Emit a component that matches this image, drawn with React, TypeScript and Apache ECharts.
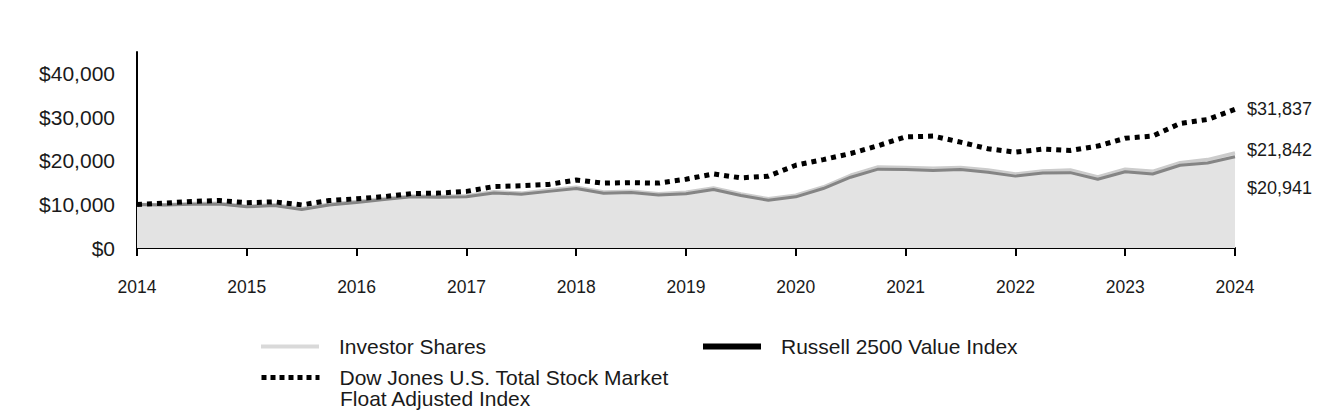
import React, { useEffect, useRef } from "react";
import * as echarts from "echarts";

const categories = [
  "2014", "Q2 2014", "Q3 2014", "Q4 2014",
  "2015", "Q2 2015", "Q3 2015", "Q4 2015",
  "2016", "Q2 2016", "Q3 2016", "Q4 2016",
  "2017", "Q2 2017", "Q3 2017", "Q4 2017",
  "2018", "Q2 2018", "Q3 2018", "Q4 2018",
  "2019", "Q2 2019", "Q3 2019", "Q4 2019",
  "2020", "Q2 2020", "Q3 2020", "Q4 2020",
  "2021", "Q2 2021", "Q3 2021", "Q4 2021",
  "2022", "Q2 2022", "Q3 2022", "Q4 2022",
  "2023", "Q2 2023", "Q3 2023", "Q4 2023",
  "2024",
];

const investorShares = [
  10000, 9950, 10200, 10250, 9600, 9950, 9050, 10050, 10650, 11350, 11950, 11850,
  12000, 12900, 12600, 13300, 13950, 12850, 13050, 12450, 12800, 13800, 12400, 11300,
  12100, 14000, 16700, 18600, 18500, 18300, 18500, 17900, 17000, 17700, 17900, 16300,
  18100, 17600, 19600, 20300, 21842,
];

const russell2500Value = [
  10000, 9850, 10050, 10100, 9450, 9750, 8850, 9850, 10450, 11150, 11750, 11650,
  11750, 12650, 12350, 13000, 13650, 12550, 12750, 12150, 12450, 13450, 12050, 10950,
  11750, 13650, 16250, 18100, 18050, 17800, 18000, 17400, 16500, 17200, 17300, 15800,
  17500, 17000, 19000, 19500, 20941,
];

const dowJonesTotal = [
  10000, 10300, 10700, 10900, 10400, 10600, 9900, 10900, 11300, 11800, 12500, 12600,
  13000, 14100, 14300, 14600, 15600, 14900, 15000, 14900, 15800, 17000, 16100, 16500,
  19000, 20300, 21700, 23500, 25500, 25700, 24300, 22800, 22000, 22700, 22400, 23400,
  25200, 25700, 28600, 29500, 31837,
];

const NAME_INV = "Investor Shares";
const NAME_RUS = "Russell 2500 Value Index";
const NAME_DOW = "Dow Jones U.S. Total Stock Market";
const DOW_LINE2 = "Float Adjusted Index";

const FONT = "Arial, 'Liberation Sans', sans-serif";
const TEXT = "#1a1a1a";

const money = (v: number) => "$" + Math.round(v).toLocaleString("en-US");

export default function App() {
  const ref = useRef<HTMLDivElement>(null);

  useEffect(() => {
    if (!ref.current) return;
    const chart = echarts.init(ref.current, undefined, { renderer: "svg" });

    const legendBase = {
      orient: "horizontal" as const,
      padding: 0,
      itemWidth: 58,
      itemHeight: 20,
      selectedMode: false,
      textStyle: {
        fontFamily: FONT,
        fontSize: 21,
        color: TEXT,
        padding: [0, 0, 0, 15],
      },
    };

    const endLabel = (offset: number[]) => ({
      show: true,
      distance: 12,
      offset,
      fontSize: 18,
      fontFamily: FONT,
      color: TEXT,
      formatter: (p: any) => money(p.value),
    });

    chart.setOption({
      animation: false,
      textStyle: { fontFamily: FONT },
      grid: { left: 129, right: 117, top: 44, bottom: 180, containLabel: false },
      xAxis: {
        type: "category",
        data: categories,
        boundaryGap: false,
        axisLine: { show: true, lineStyle: { color: "#000", width: 2 } },
        axisTick: {
          show: true,
          interval: 3,
          length: 8,
          lineStyle: { color: "#000", width: 2 },
        },
        axisLabel: {
          interval: 3,
          margin: 30,
          fontSize: 17.5,
          color: TEXT,
          fontFamily: FONT,
          formatter: (v: string) => (v.indexOf("Q") >= 0 ? "" : v),
        },
        splitLine: { show: false },
      },
      yAxis: {
        type: "value",
        min: 0,
        max: 45000,
        interval: 10000,
        axisLine: { show: true, lineStyle: { color: "#000", width: 2 } },
        axisTick: { show: false },
        splitLine: { show: false },
        axisLabel: {
          showMaxLabel: false,
          margin: 22,
          fontSize: 21,
          color: TEXT,
          fontFamily: FONT,
          formatter: (v: number) => money(v),
        },
      },
      legend: [
        {
          ...legendBase,
          left: 251,
          top: 328,
          data: [
            {
              name: NAME_INV,
              itemStyle: { opacity: 0 },
              lineStyle: { color: "#d9d9d9", width: 4 },
            },
          ],
        },
        {
          ...legendBase,
          left: 692,
          top: 328,
          data: [
            {
              name: NAME_RUS,
              itemStyle: { opacity: 0 },
              lineStyle: { color: "#000", width: 6, opacity: 1 },
            },
          ],
        },
        {
          ...legendBase,
          left: 251,
          top: 359,
          data: [
            {
              name: NAME_DOW,
              itemStyle: { opacity: 0 },
              lineStyle: { color: "#000", width: 5, type: [5, 4] },
            },
          ],
        },
      ],
      graphic: [
        {
          type: "text",
          left: 332,
          top: 380,
          style: {
            text: DOW_LINE2,
            fontFamily: FONT,
            fontSize: 21,
            fill: TEXT,
          },
        },
      ],
      series: [
        {
          name: NAME_INV,
          type: "line",
          data: investorShares,
          symbol: "none",
          z: 1,
          lineStyle: { color: "#cccccc", width: 3.5 },
          itemStyle: { color: "#d9d9d9" },
          areaStyle: { color: "#e3e3e3", opacity: 1 },
          endLabel: endLabel([0, -3]),
        },
        {
          name: NAME_RUS,
          type: "line",
          data: russell2500Value,
          symbol: "none",
          z: 2,
          lineStyle: { color: "#858585", width: 3 },
          itemStyle: { color: "#000" },
          endLabel: endLabel([0, 31]),
        },
        {
          name: NAME_DOW,
          type: "line",
          data: dowJonesTotal,
          symbol: "none",
          z: 3,
          lineStyle: { color: "#000", width: 5, type: [5, 5], cap: "butt" },
          itemStyle: { color: "#000" },
          endLabel: endLabel([0, 0]),
        },
      ],
    });

    return () => chart.dispose();
  }, []);

  return <div ref={ref} style={{ width: 1344, height: 420 }} />;
}
